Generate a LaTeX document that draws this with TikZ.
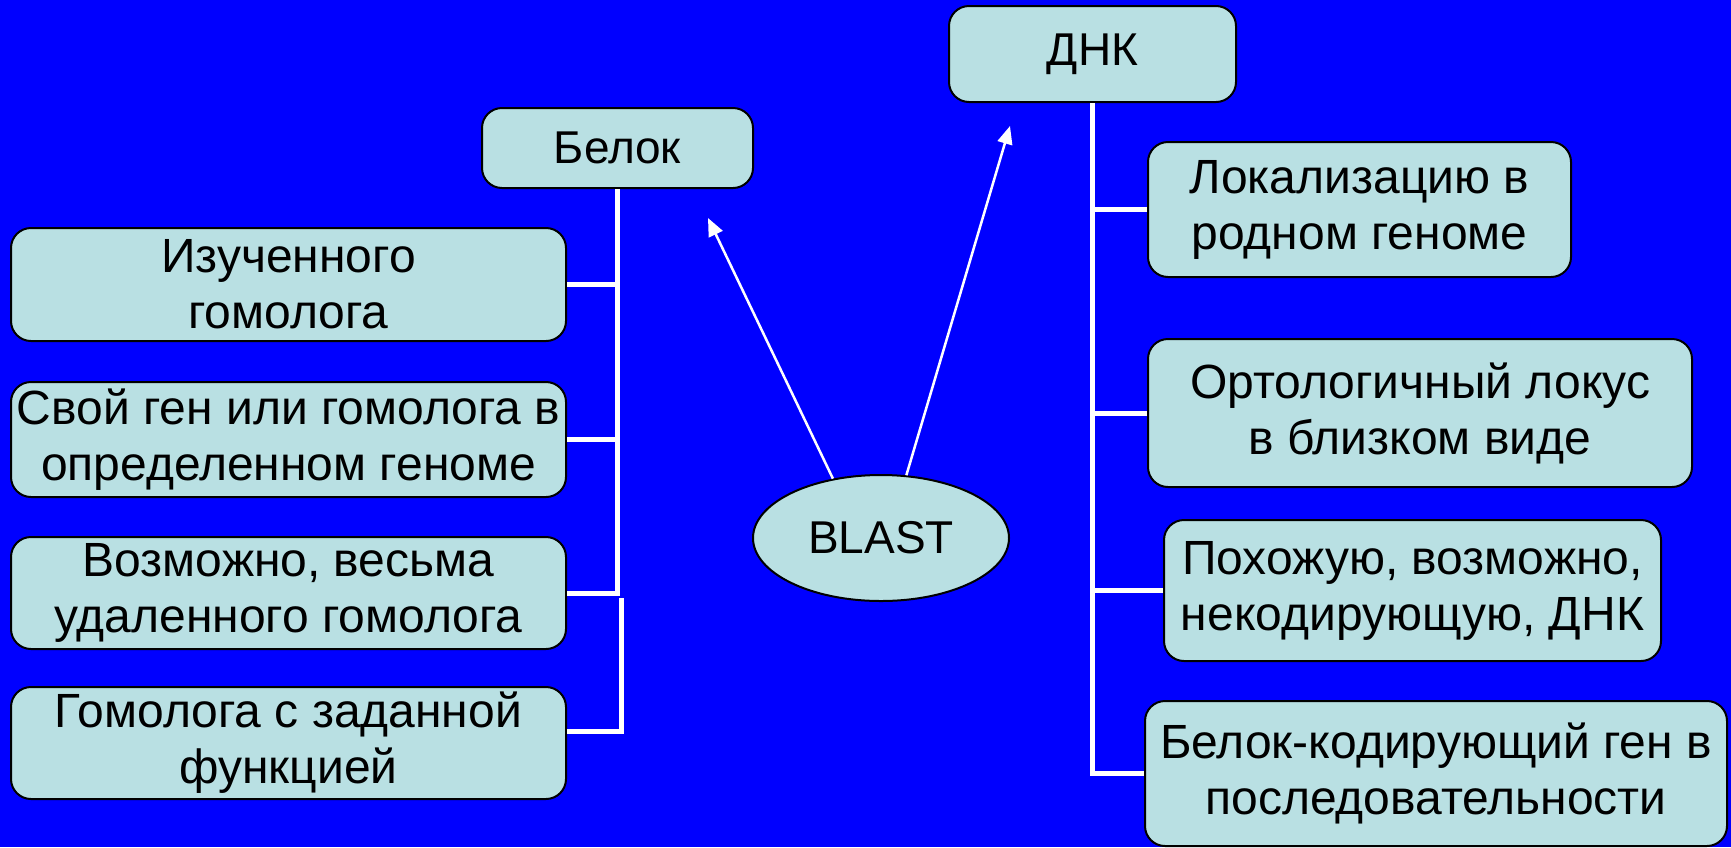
\documentclass[tikz,border=0pt]{standalone}
\usepackage{fontspec}
\setmainfont{Liberation Sans}
\usetikzlibrary{arrows.meta,shapes.geometric}
\definecolor{bg}{RGB}{0,0,255}
\definecolor{boxfill}{RGB}{185,224,227}
\tikzset{
  boxnode/.style={draw=black, line width=2pt, fill=boxfill, rounded corners=20pt,
    align=center, inner sep=0pt, font=\fontsize{48}{56}\selectfont},
  topnode/.style={boxnode, font=\fontsize{46}{56}\selectfont},
  wl/.style={draw=white, line width=5pt},
  arr/.style={draw=white, line width=2.5pt, -{Triangle[length=18pt,width=15pt]}},
}
\begin{document}
\begin{tikzpicture}[x=1pt,y=-1pt]
\fill[bg] (0,0) rectangle (1731,847);
\useasboundingbox (0,0) rectangle (1731,847);
% top boxes
\node[topnode, minimum width=271pt, minimum height=80pt] (belok) at (617.5,148) {Белок};
\node[topnode, minimum width=287pt, minimum height=96pt] (dna) at (1092.5,54) {ДНК};
% left boxes
\node[boxnode, minimum width=555pt, minimum height=113pt] (l1) at (288.5,284.5) {Изученного\\гомолога};
\node[boxnode, minimum width=555pt, minimum height=115pt] (l2) at (288.5,439.5) {Свой ген или гомолога в\\определенном геноме};
\node[boxnode, minimum width=555pt, minimum height=112pt] (l3) at (288.5,593) {Возможно, весьма\\удаленного гомолога};
\node[boxnode, minimum width=555pt, minimum height=112pt] (l4) at (288.5,743) {Гомолога с заданной\\функцией};
% right boxes
\node[boxnode, minimum width=423pt, minimum height=135pt] (r1) at (1359.5,209.5) {Локализацию в\\родном геноме};
\node[boxnode, minimum width=544pt, minimum height=148pt] (r2) at (1420,413) {Ортологичный локус\\в близком виде};
\node[boxnode, minimum width=497pt, minimum height=141pt] (r3) at (1412.5,590.5) {Похожую, возможно,\\некодирующую, ДНК};
\node[boxnode, minimum width=582pt, minimum height=145pt] (r4) at (1436,773.5) {Белок-кодирующий ген в\\последовательности};
% BLAST
\node[ellipse, draw=black, line width=2pt, fill=boxfill, minimum width=256pt, minimum height=126pt,
  inner sep=0pt, font=\fontsize{46}{56}\selectfont] (blast) at (881,538) {BLAST};
% left brackets
\draw[wl] (belok.south) |- (l3.east);
\draw[wl] (l1.east) -- (l1.east -| belok.south);
\draw[wl] (l2.east) -- (l2.east -| belok.south);
\coordinate (b2top) at (621,598);
\draw[wl] (b2top) |- ([yshift=12pt]l4.east);
% right brackets
\draw[wl] (dna.south) |- (r4.west);
\draw[wl] (r1.west) -- (r1.west -| dna.south);
\draw[wl] (r2.west) -- (r2.west -| dna.south);
\draw[wl] (r3.west) -- (r3.west -| dna.south);
% arrows
\coordinate (tipL) at (708,218);
\coordinate (tipR) at (1010,126);
\draw[arr] (blast.129) -- (tipL);
\draw[arr] (blast.68) -- (tipR);
\end{tikzpicture}
\end{document}
